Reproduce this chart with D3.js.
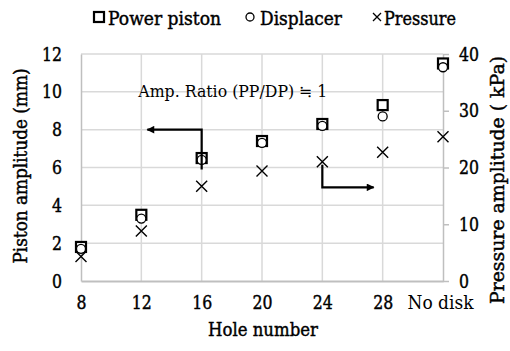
<!DOCTYPE html>
<html>
<head>
<meta charset="utf-8">
<script src="https://cdn.jsdelivr.net/npm/d3@7"></script>
<style>
  body { margin: 0; background: #fff; }
  .heavy text, text.heavy { stroke: #000; stroke-width: 0.45px; }
</style>
</head>
<body>
<svg id="chart"></svg>
<script>
// chart data
const holes = ['8', '12', '16', '20', '24', '28', 'No disk'];
const powerPiston = [1.8, 3.5, 6.5, 7.4, 8.3, 9.3, 11.5];
const displacer = [1.7, 3.3, 6.4, 7.3, 8.2, 8.7, 11.3];
const pressure = [4.3, 8.8, 16.7, 19.4, 21.0, 22.7, 25.4];
const leftTicks = [0, 2, 4, 6, 8, 10, 12];
const rightTicks = [0, 10, 20, 30, 40];

const FONT = 'DejaVu Serif';

const width = 510, height = 351;
const margin = {top: 54, right: 67, bottom: 70, left: 81};
const innerW = width - margin.left - margin.right;
const innerH = height - margin.top - margin.bottom;

const svg = d3.select('#chart').attr('width', width).attr('height', height)
  .attr('font-family', FONT);
const chart = svg.append('g').attr('transform', `translate(${margin.left},${margin.top})`);

const x = d3.scalePoint().domain(holes).range([0, innerW]);
const yL = d3.scaleLinear().domain([0, 12]).range([innerH, 0]);
const yR = d3.scaleLinear().domain([0, 40]).range([innerH, 0]);

// squeeze the wide serif digits to a times-like width
const digitLen = s => String(s).length * 10;

// gridlines
chart.append('g').selectAll('line.h')
  .data(leftTicks.slice(1))
  .join('line')
    .attr('x1', 0).attr('x2', innerW)
    .attr('y1', d => yL(d)).attr('y2', d => yL(d))
    .attr('stroke', '#d9d9d9').attr('stroke-width', 1.5);
chart.append('g').selectAll('line.v')
  .data(holes.slice(1, -1))
  .join('line')
    .attr('x1', d => x(d)).attr('x2', d => x(d))
    .attr('y1', 0).attr('y2', innerH)
    .attr('stroke', '#d9d9d9').attr('stroke-width', 1.5);

// left axis
const leftAxis = chart.append('g')
  .attr('class', 'heavy')
  .call(d3.axisLeft(yL).tickValues(leftTicks).tickSize(0).tickPadding(19))
  .attr('font-family', FONT).attr('font-size', 19);
leftAxis.select('.domain').attr('stroke', '#bfbfbf').attr('stroke-width', 1.5);
leftAxis.selectAll('text')
  .attr('textLength', d => digitLen(d)).attr('lengthAdjust', 'spacingAndGlyphs');

// right axis
const rightAxis = chart.append('g')
  .attr('class', 'heavy')
  .attr('transform', `translate(${innerW},0)`)
  .call(d3.axisRight(yR).tickValues(rightTicks).tickSize(6).tickSizeOuter(0).tickPadding(10))
  .attr('font-family', FONT).attr('font-size', 19);
rightAxis.select('.domain').attr('stroke', '#bfbfbf').attr('stroke-width', 1.5);
rightAxis.selectAll('.tick line').attr('stroke', '#bfbfbf').attr('stroke-width', 1.5);
rightAxis.selectAll('text')
  .attr('textLength', d => digitLen(d)).attr('lengthAdjust', 'spacingAndGlyphs');

// bottom axis
const bottomAxis = chart.append('g')
  .attr('transform', `translate(0,${innerH})`)
  .call(d3.axisBottom(x).tickSize(0).tickPadding(15))
  .attr('font-family', FONT).attr('font-size', 19);
bottomAxis.select('.domain').attr('stroke', '#bfbfbf').attr('stroke-width', 2);
bottomAxis.selectAll('text')
  .attr('class', d => d === 'No disk' ? null : 'heavy')
  .attr('font-size', d => d === 'No disk' ? 18 : 19)
  .attr('textLength', d => d === 'No disk' ? 66 : digitLen(d))
  .attr('lengthAdjust', 'spacingAndGlyphs')
  .attr('dx', d => d === 'No disk' ? -3 : 0);

// axis titles
svg.append('text')
  .attr('class', 'heavy')
  .attr('transform', 'translate(27,166) rotate(-90)')
  .attr('text-anchor', 'middle')
  .attr('font-size', 19)
  .attr('textLength', 195).attr('lengthAdjust', 'spacingAndGlyphs')
  .text('Piston amplitude (mm)');
svg.append('text')
  .attr('class', 'heavy')
  .attr('transform', 'translate(504,180) rotate(-90)')
  .attr('text-anchor', 'middle')
  .attr('font-size', 19)
  .attr('textLength', 248).attr('lengthAdjust', 'spacingAndGlyphs')
  .text('Pressure amplitude ( kPa)');
svg.append('text')
  .attr('class', 'heavy')
  .attr('x', 263)
  .attr('y', 336)
  .attr('text-anchor', 'middle')
  .attr('font-size', 19)
  .attr('textLength', 110).attr('lengthAdjust', 'spacingAndGlyphs')
  .text('Hole number');

// markers
const crossPath = s => `M${-s},${-s}L${s},${s}M${-s},${s}L${s},${-s}`;

chart.append('g').selectAll('path')
  .data(pressure)
  .join('path')
    .attr('transform', (d, i) => `translate(${x(holes[i])},${yR(d)})`)
    .attr('d', crossPath(5.5))
    .attr('fill', 'none').attr('stroke', '#000').attr('stroke-width', 1.4);

chart.append('g').selectAll('rect')
  .data(powerPiston)
  .join('rect')
    .attr('x', (d, i) => x(holes[i]) - 5)
    .attr('y', d => yL(d) - 5)
    .attr('width', 10).attr('height', 10)
    .attr('fill', '#fff').attr('stroke', '#000').attr('stroke-width', 2.2);

chart.append('g').selectAll('circle')
  .data(displacer)
  .join('circle')
    .attr('cx', (d, i) => x(holes[i]))
    .attr('cy', d => yL(d))
    .attr('r', 4.5)
    .attr('fill', '#fff').attr('stroke', '#000').attr('stroke-width', 1.3);

// annotations
svg.append('defs').append('marker')
  .attr('id', 'arrow')
  .attr('viewBox', '0 0 10 10')
  .attr('refX', 9).attr('refY', 5)
  .attr('markerWidth', 4).attr('markerHeight', 3.5)
  .attr('orient', 'auto')
  .append('path').attr('d', 'M0,0L10,5L0,10Z').attr('fill', '#000');

chart.append('text')
  .attr('x', x('12') - 3)
  .attr('y', yL(9.8) + 1)
  .attr('font-size', 16)
  .attr('textLength', 189).attr('lengthAdjust', 'spacingAndGlyphs')
  .text('Amp. Ratio (PP/DP) ≒ 1');

chart.append('path')
  .attr('d', `M${x('16')},${yL(5.9)}V${yL(8)}H${x('12') + 6}`)
  .attr('fill', 'none').attr('stroke', '#000').attr('stroke-width', 2.2)
  .attr('marker-end', 'url(#arrow)');

chart.append('path')
  .attr('d', `M${x('24')},${yR(20.5)}V${yR(16.5)}H${x('28') - 9}`)
  .attr('fill', 'none').attr('stroke', '#000').attr('stroke-width', 2.2)
  .attr('marker-end', 'url(#arrow)');

// legend
const legend = svg.append('g').attr('transform', 'translate(0,17)')
  .attr('class', 'heavy')
  .attr('font-size', 19);
legend.append('rect').attr('x', 94).attr('y', -5).attr('width', 10).attr('height', 10)
  .attr('fill', '#fff').attr('stroke', '#000').attr('stroke-width', 2.2);
legend.append('text').attr('x', 108).attr('y', 8)
  .attr('textLength', 113).attr('lengthAdjust', 'spacingAndGlyphs').text('Power piston');
legend.append('circle').attr('cx', 250).attr('cy', 0).attr('r', 4)
  .attr('fill', '#fff').attr('stroke', '#000').attr('stroke-width', 1.3);
legend.append('text').attr('x', 260).attr('y', 8)
  .attr('textLength', 82).attr('lengthAdjust', 'spacingAndGlyphs').text('Displacer');
legend.append('path').attr('transform', 'translate(377,0)').attr('d', crossPath(4))
  .attr('stroke', '#000').attr('stroke-width', 1.3);
legend.append('text').attr('x', 384).attr('y', 8)
  .attr('textLength', 72).attr('lengthAdjust', 'spacingAndGlyphs').text('Pressure');
</script>
</body>
</html>
